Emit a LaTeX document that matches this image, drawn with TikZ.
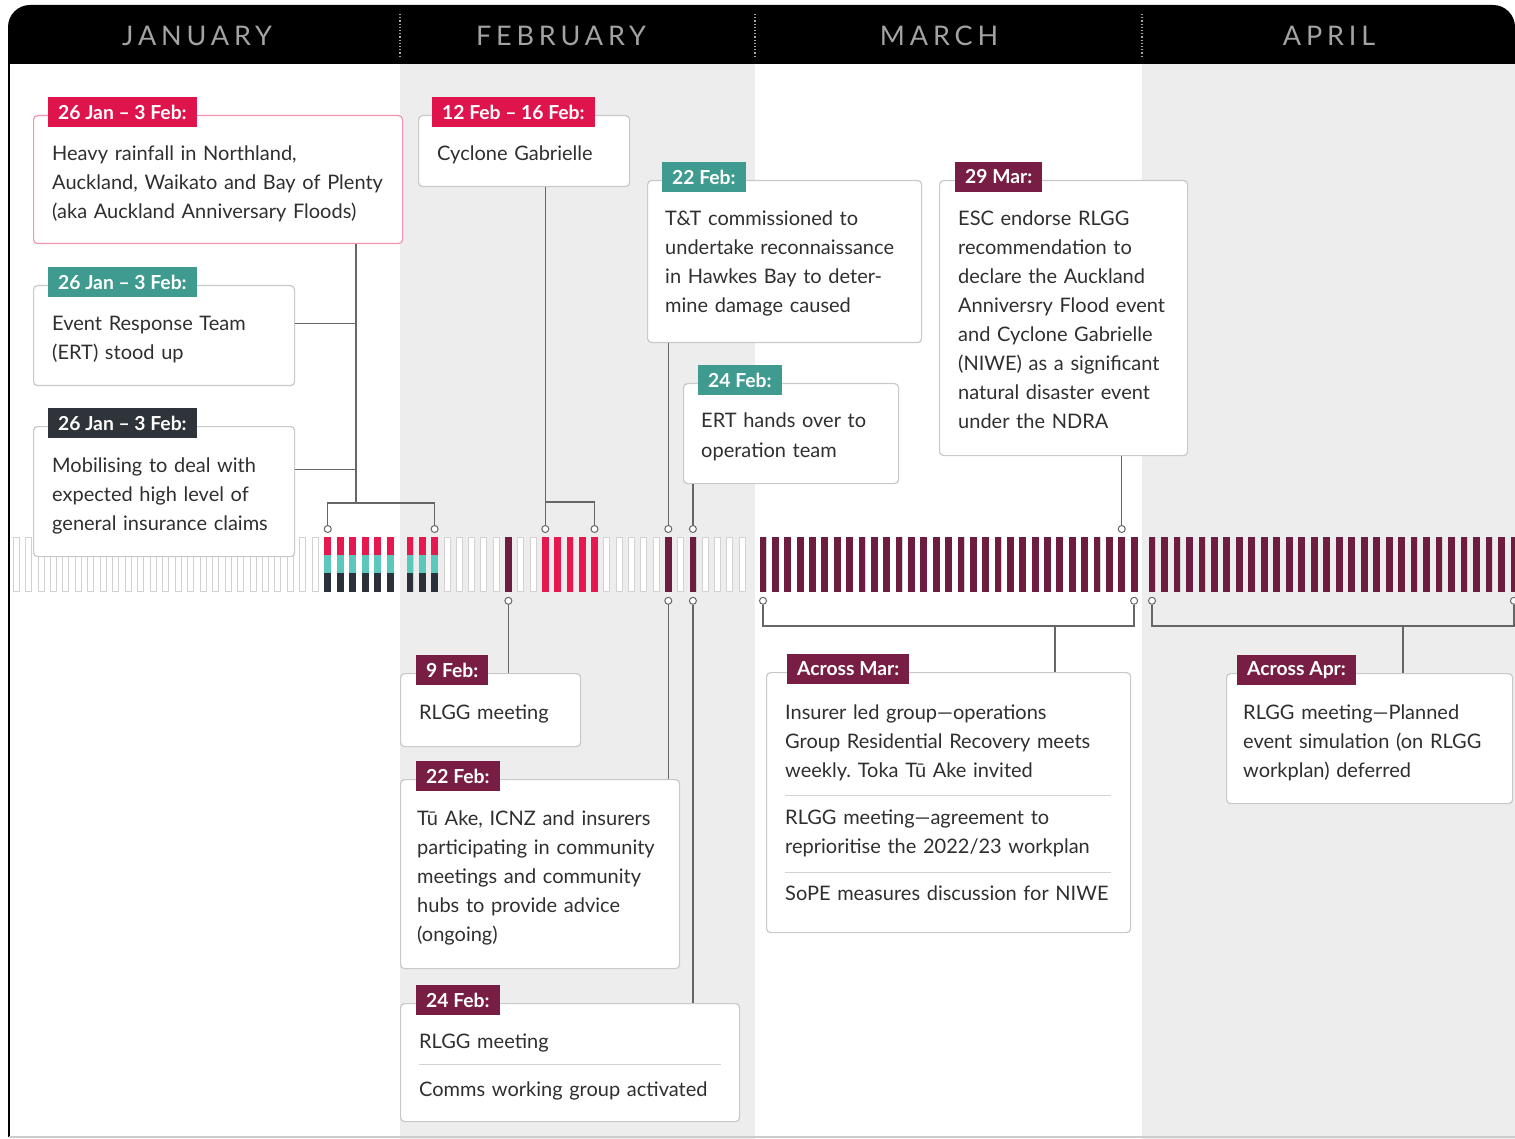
\documentclass[tikz,border=0pt]{standalone}
\usepackage{fontspec}
\setmainfont{Lato}
\usetikzlibrary{positioning,calc}
\definecolor{tagred}{HTML}{E0144C}
\definecolor{tagteal}{HTML}{3F9B8F}
\definecolor{tagdark}{HTML}{2E3439}
\definecolor{tagmaroon}{HTML}{781E45}
\definecolor{barred}{HTML}{E5194F}
\definecolor{barteal}{HTML}{5CC7BD}
\definecolor{bardark}{HTML}{2B3138}
\definecolor{barmaroon}{HTML}{6C1D40}
\definecolor{colgray}{HTML}{EDEDED}
\definecolor{monthgray}{HTML}{A3A3A3}
\definecolor{txt}{HTML}{2F2F2F}
\definecolor{linegray}{HTML}{666666}
\definecolor{boxline}{HTML}{C9C9C9}
\frenchspacing

\begin{document}
\begin{tikzpicture}[x=1pt,y=-1pt]
% styles
\tikzset{
  event/.style={rectangle, draw=boxline, line width=1.2pt, fill=white, rounded corners=4pt, anchor=north west, inner sep=0pt},
  tag/.style={rectangle, text=white, font=\bfseries\fontsize{19.3}{19.3}\selectfont, inner xsep=10pt, inner ysep=0pt, minimum height=30pt, anchor=west},
  body/.style={anchor=base west, inner sep=0pt, align=left, text width=360pt, text=txt, font=\fontsize{20}{29}\selectfont},
  month/.style={text=monthgray, font=\fontsize{27}{27}\selectfont\addfontfeatures{LetterSpace=18}},
  link/.style={draw=linegray, line width=1.4pt},
  pin/.style={circle, draw=linegray, fill=white, line width=1pt, minimum size=7pt, inner sep=0pt},
  daybar/.style={rectangle, draw=gray!35, fill=white, line width=0.8pt, minimum width=6pt, minimum height=54pt, inner sep=0pt, anchor=north},
  sepline/.style={draw=gray!35, line width=1pt}
}
\useasboundingbox (0,0) rectangle (1515,1139);

% background and month columns
\fill[white] (0,0) rectangle (1515,1139);
\fill[colgray] (400,64) rectangle (755,1139);
\fill[colgray] (1142,64) rectangle (1515,1139);
\fill[black] (8,64) -- (8,27) arc[start angle=180, end angle=270, radius=22] -- (1493,5) arc[start angle=270, end angle=360, radius=22] -- (1515,64) -- cycle;
\draw[black, line width=2.5pt] (9,64) -- (9,1137);
\draw[gray!40, line width=1.5pt] (9,1137) -- (1515,1137);
\draw[gray!70, dotted, line width=1.2pt] (400,14) -- (400,56);
\draw[gray!70, dotted, line width=1.2pt] (755,14) -- (755,56);
\draw[gray!70, dotted, line width=1.2pt] (1142,14) -- (1142,56);
\node[month] (jan) at (197,36) {JANUARY};
\node[month] (feb) at (561,36) {FEBRUARY};
\node[month] (mar) at (939,36) {MARCH};
\node[month] (apr) at (1329,36) {APRIL};

% day bars
\foreach \m/\x/\dx/\n in {1/16/12.47/31, 2/410/12.3/28, 3/763/12.37/31, 4/1152/12.48/30}
  \foreach \k in {1,...,\n}
    \node[daybar] (d-\m-\k) at ({\x+(\k-1)*\dx},537) {};
\foreach \d in {1-26,1-27,1-28,1-29,1-30,1-31,2-1,2-2,2-3} {
  \fill[barred] (d-\d.north west) rectangle ($(d-\d.north east)+(0,18)$);
  \fill[barteal] ($(d-\d.north west)+(0,18)$) rectangle ($(d-\d.north east)+(0,36)$);
  \fill[bardark] ($(d-\d.north west)+(0,36)$) rectangle (d-\d.south east);
}
\foreach \d in {2-12,2-13,2-14,2-15,2-16}
  \fill[barred] (d-\d.north west) rectangle (d-\d.south east);
\foreach \d in {2-9,2-22,2-24}
  \fill[barmaroon] (d-\d.north west) rectangle (d-\d.south east);
\foreach \k in {1,...,31}
  \fill[barmaroon] (d-3-\k.north west) rectangle (d-3-\k.south east);
\foreach \k in {1,...,30}
  \fill[barmaroon] (d-4-\k.north west) rectangle (d-4-\k.south east);

% events above the timeline
\node[event, draw=tagred!45, minimum width=369pt, minimum height=128pt] (ev1) at (33,115) {};
\node[tag, fill=tagred] (tag1) at ([xshift=15pt,yshift=3pt]ev1.north west) {26 Jan – 3 Feb:};
\node[body] (txt1) at ([xshift=19pt,yshift=-46pt]ev1.north west) {Heavy rainfall in Northland,\\Auckland, Waikato and Bay of Plenty\\(aka Auckland Anniversary Floods)};

\node[event, minimum width=261pt, minimum height=100pt] (ev2) at (33,285) {};
\node[tag, fill=tagteal] (tag2) at ([xshift=15pt,yshift=3pt]ev2.north west) {26 Jan – 3 Feb:};
\node[body] (txt2) at ([xshift=19pt,yshift=-46pt]ev2.north west) {Event Response Team\\(ERT) stood up};

\node[event, minimum width=261pt, minimum height=130pt] (ev3) at (33,426) {};
\node[tag, fill=tagdark] (tag3) at ([xshift=15pt,yshift=3pt]ev3.north west) {26 Jan – 3 Feb:};
\node[body] (txt3) at ([xshift=19pt,yshift=-46pt]ev3.north west) {Mobilising to deal with\\expected high level of\\general insurance claims};

\node[event, minimum width=211pt, minimum height=71pt] (ev4) at (418,115) {};
\node[tag, fill=tagred] (tag4) at ([xshift=14pt,yshift=3pt]ev4.north west) {12 Feb – 16 Feb:};
\node[body] (txt4) at ([xshift=19pt,yshift=-46pt]ev4.north west) {Cyclone Gabrielle};

\node[event, minimum width=274pt, minimum height=162pt] (ev5) at (647,180) {};
\node[tag, fill=tagteal] (tag5) at ([xshift=15pt,yshift=3pt]ev5.north west) {22 Feb:};
\node[body] (txt5) at ([xshift=18pt,yshift=-46pt]ev5.north west) {T\&T commissioned to\\undertake reconnaissance\\in Hawkes Bay to deter-\\mine damage caused};

\node[event, minimum width=215pt, minimum height=100pt] (ev6) at (683,383) {};
\node[tag, fill=tagteal] (tag6) at ([xshift=15pt,yshift=3pt]ev6.north west) {24 Feb:};
\node[body] (txt6) at ([xshift=18pt,yshift=-45pt]ev6.north west) {ERT hands over to\\operation team};

\node[event, minimum width=248pt, minimum height=275pt] (ev7) at (939,180) {};
\node[tag, fill=tagmaroon] (tag7) at ([xshift=16pt,yshift=3pt]ev7.north west) {29 Mar:};
\node[body] (txt7) at ([xshift=19pt,yshift=-46pt]ev7.north west) {ESC endorse RLGG\\recommendation to\\declare the Auckland\\Anniversry Flood event\\and Cyclone Gabrielle\\(NIWE) as a significant\\natural disaster event\\under the NDRA};

% events below the timeline
\node[event, minimum width=180pt, minimum height=73pt] (ev8) at (400,673) {};
\node[tag, fill=tagmaroon] (tag8) at ([xshift=16pt,yshift=3pt]ev8.north west) {9 Feb:};
\node[body] (txt8) at ([xshift=19pt,yshift=-46pt]ev8.north west) {RLGG meeting};

\node[event, minimum width=279pt, minimum height=189pt] (ev9) at (400,779) {};
\node[tag, fill=tagmaroon] (tag9) at ([xshift=16pt,yshift=3pt]ev9.north west) {22 Feb:};
\node[body] (txt9) at ([xshift=17pt,yshift=-46pt]ev9.north west) {Tū Ake, ICNZ and insurers\\participating in community\\meetings and community\\hubs to provide advice\\(ongoing)};

\node[event, minimum width=339pt, minimum height=118pt] (ev10) at (400,1003) {};
\node[tag, fill=tagmaroon] (tag10) at ([xshift=16pt,yshift=3pt]ev10.north west) {24 Feb:};
\node[body] (txt10a) at ([xshift=19pt,yshift=-45pt]ev10.north west) {RLGG meeting};
\draw[sepline] ([xshift=19pt,yshift=-61pt]ev10.north west) -- ([xshift=-19pt,yshift=-61pt]ev10.north east);
\node[body] (txt10b) at ([xshift=19pt,yshift=-93pt]ev10.north west) {Comms working group activated};

\node[event, minimum width=364pt, minimum height=260pt] (ev11) at (766,672) {};
\node[tag, fill=tagmaroon] (tag11) at ([xshift=21pt,yshift=3pt]ev11.north west) {Across Mar:};
\node[body] (txt11a) at ([xshift=19pt,yshift=-47pt]ev11.north west) {Insurer led group—operations\\Group Residential Recovery meets\\weekly. Toka Tū Ake invited};
\draw[sepline] ([xshift=19pt,yshift=-123pt]ev11.north west) -- ([xshift=-20pt,yshift=-123pt]ev11.north east);
\node[body] (txt11b) at ([xshift=19pt,yshift=-152pt]ev11.north west) {RLGG meeting—agreement to\\reprioritise the 2022/23 workplan};
\draw[sepline] ([xshift=19pt,yshift=-200pt]ev11.north west) -- ([xshift=-20pt,yshift=-200pt]ev11.north east);
\node[body] (txt11c) at ([xshift=19pt,yshift=-228pt]ev11.north west) {SoPE measures discussion for NIWE};

\node[event, minimum width=286pt, minimum height=130pt] (ev12) at (1226,673) {};
\node[tag, fill=tagmaroon] (tag12) at ([xshift=11pt,yshift=3pt]ev12.north west) {Across Apr:};
\node[body] (txt12) at ([xshift=17pt,yshift=-46pt]ev12.north west) {RLGG meeting—Planned\\event simulation (on RLGG\\workplan) deferred};

% pins on the timeline
\node[pin] (pJan26) at ([yshift=8pt]d-1-26.north) {};
\node[pin] (pFeb3) at ([yshift=8pt]d-2-3.north) {};
\node[pin] (pFeb12) at ([yshift=8pt]d-2-12.north) {};
\node[pin] (pFeb16) at ([yshift=8pt]d-2-16.north) {};
\node[pin] (pFeb22t) at ([yshift=8pt]d-2-22.north) {};
\node[pin] (pFeb24t) at ([yshift=8pt]d-2-24.north) {};
\node[pin] (pMar30) at ([yshift=8pt]d-3-30.north) {};
\node[pin] (pFeb9) at ([yshift=-9pt]d-2-9.south) {};
\node[pin] (pFeb22b) at ([yshift=-9pt]d-2-22.south) {};
\node[pin] (pFeb24b) at ([yshift=-9pt]d-2-24.south) {};
\node[pin] (pMar1) at ([yshift=-9pt]d-3-1.south) {};
\node[pin] (pMar31) at ([yshift=-9pt]d-3-31.south) {};
\node[pin] (pApr1) at ([yshift=-9pt]d-4-1.south) {};
\node[pin] (pApr30) at ([yshift=-9pt]d-4-30.south) {};

% connectors
\coordinate (jantrunk) at (356,503);
\draw[link] (pJan26.north) |- (pFeb3.north |- jantrunk) -- (pFeb3.north);
\draw[link] (jantrunk) -- (jantrunk |- ev1.south);
\draw[link] ([yshift=12pt]ev2.east) -- ([yshift=12pt]ev2.east -| jantrunk);
\draw[link] ([yshift=22pt]ev3.east) -- ([yshift=22pt]ev3.east -| jantrunk);
\draw[link] (ev4.south -| pFeb12.north) -- (pFeb12.north);
\draw[link] ([yshift=23pt]pFeb12.north) -| (pFeb16.north);
\draw[link] (ev5.south -| pFeb22t.north) -- (pFeb22t.north);
\draw[link] (ev6.south -| pFeb24t.north) -- (pFeb24t.north);
\draw[link] (ev7.south -| pMar30.north) -- (pMar30.north);
\draw[link] (pFeb9.south) -- (pFeb9.south |- ev8.north);
\draw[link] (pFeb22b.south) -- (pFeb22b.south |- ev9.north);
\draw[link] (pFeb24b.south) -- (pFeb24b.south |- ev10.north);
\coordinate (martrunk) at (1055,626);
\draw[link] (pMar1.south) |- (martrunk) -| (pMar31.south);
\draw[link] (martrunk) -- (martrunk |- ev11.north);
\coordinate (aprtrunk) at (1403,626);
\draw[link] (pApr1.south) |- (aprtrunk) -| (pApr30.south);
\draw[link] (aprtrunk) -- (aprtrunk |- ev12.north);
\end{tikzpicture}
\end{document}
